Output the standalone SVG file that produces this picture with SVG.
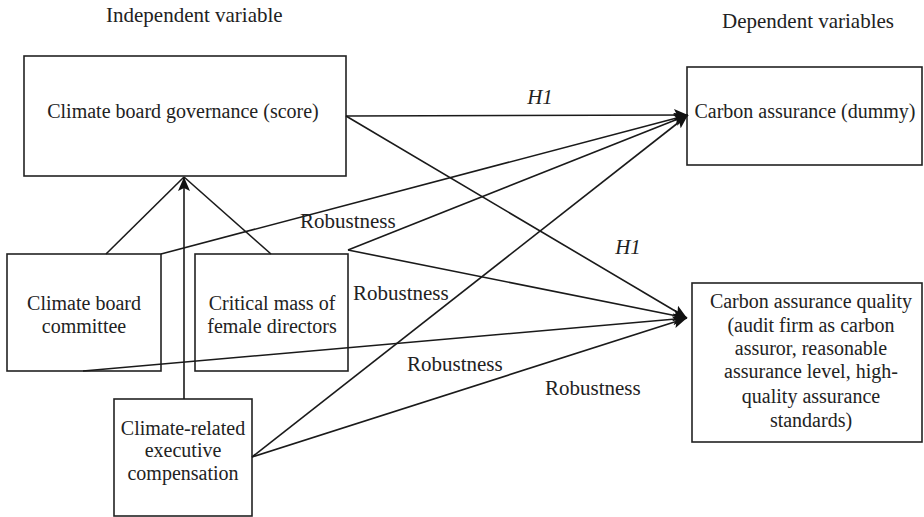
<svg xmlns="http://www.w3.org/2000/svg" width="924" height="517" viewBox="0 0 924 517">
<style>
text{font-family:"Liberation Serif","Times New Roman",serif;fill:#222;}
.n{font-size:20px;text-anchor:middle;}
.h{font-size:21px;}
.r{font-size:21px;}
.i{font-size:21px;font-style:italic;text-anchor:middle;}
rect{fill:#fff;stroke:#222;stroke-width:1.6;}
.c line{stroke:#1a1a1a;stroke-width:1.6;}
</style>
<defs>
<marker id="ah" viewBox="0 0 14 12" refX="14" refY="6" markerWidth="14" markerHeight="12" markerUnits="userSpaceOnUse" orient="auto">
<path d="M0,0 L14,6 L0,12 L3,6 Z" fill="#111"/>
</marker>
</defs>
<rect x="0" y="0" width="924" height="517" style="stroke:none"/>
<text class="h" x="106" y="22">Independent variable</text>
<text class="h" x="722" y="28">Dependent variables</text>
<g id="gov"><rect x="24" y="56" width="322" height="120"/><text class="n" x="183" y="118">Climate board governance (score)</text></g>
<g id="committee"><rect x="7" y="254" width="154" height="117"/><text class="n" x="84" y="310">Climate board</text><text class="n" x="84" y="333">committee</text></g>
<g id="female"><rect x="195" y="254" width="153" height="117"/><text class="n" x="272" y="310">Critical mass of</text><text class="n" x="272" y="333">female directors</text></g>
<g id="comp"><rect x="114" y="399" width="138" height="117"/><text class="n" x="183" y="435">Climate-related</text><text class="n" x="183" y="457">executive</text><text class="n" x="183" y="480">compensation</text></g>
<g id="dummy"><rect x="687" y="67" width="235" height="98"/><text class="n" x="805" y="118">Carbon assurance (dummy)</text></g>
<g id="quality"><rect x="692" y="283" width="230" height="159"/><text class="n" x="811" y="308">Carbon assurance quality</text><text class="n" x="811" y="332">(audit firm as carbon</text><text class="n" x="811" y="355">assuror, reasonable</text><text class="n" x="811" y="378">assurance level, high-</text><text class="n" x="811" y="403">quality assurance</text><text class="n" x="811" y="427">standards)</text></g>
<g class="c">
<line x1="346" y1="116" x2="688" y2="115" marker-end="url(#ah)"/>
<line x1="346" y1="116" x2="687" y2="318" marker-end="url(#ah)"/>
<line x1="161" y1="254" x2="688" y2="115" marker-end="url(#ah)"/>
<line x1="348" y1="250" x2="688" y2="115" marker-end="url(#ah)"/>
<line x1="348" y1="250" x2="687" y2="318" marker-end="url(#ah)"/>
<line x1="83" y1="371" x2="687" y2="318" marker-end="url(#ah)"/>
<line x1="252" y1="457" x2="688" y2="115" marker-end="url(#ah)"/>
<line x1="252" y1="457" x2="687" y2="318" marker-end="url(#ah)"/>
<line x1="106" y1="254" x2="184" y2="177"/>
<line x1="271" y1="254" x2="184" y2="177"/>
<line x1="184" y1="399" x2="184" y2="177" marker-end="url(#ah)"/>
</g>
<text class="i" x="540" y="104">H1</text>
<text class="i" x="628" y="254">H1</text>
<text class="r" x="300" y="228">Robustness</text>
<text class="r" x="353" y="300">Robustness</text>
<text class="r" x="407" y="371">Robustness</text>
<text class="r" x="545" y="395">Robustness</text>
</svg>
